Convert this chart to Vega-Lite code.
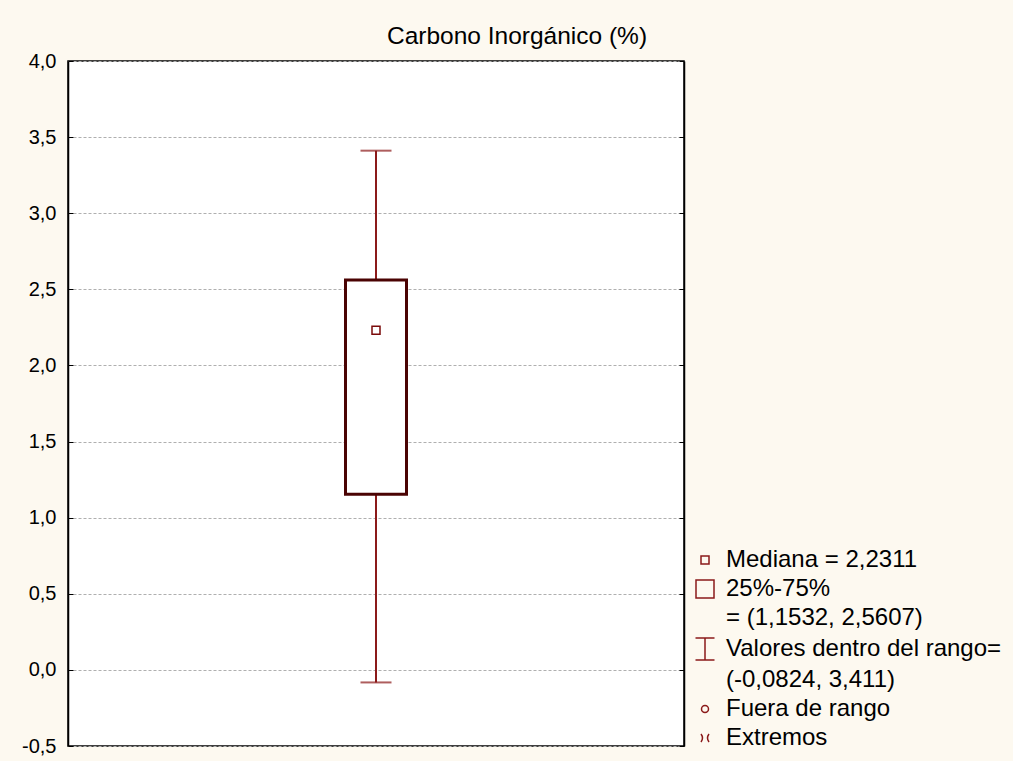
{
  "$schema": "https://vega.github.io/schema/vega-lite/v6.json",
  "width": 616,
  "height": 685,
  "autosize": "none",
  "padding": {"left": 68, "top": 61, "right": 329, "bottom": 15},
  "background": "#FDF9F0",
  "view": {"fill": "#FFFFFF", "stroke": "#000000", "strokeWidth": 1.5},
  "title": {"text": "Carbono Inorgánico (%)", "fontSize": 24.5, "font": "Liberation Sans", "fontWeight": "normal", "color": "#000000", "offset": 2, "dx": 141},
  "config": {
    "font": "Liberation Sans",
    "view": {"fill": "#FFFFFF", "stroke": "#000000", "strokeWidth": 1.5},
    "axisY": {"labelFontSize": 20, "labelFont": "Liberation Sans", "labelColor": "#000000"}
  },
  "datasets": {
    "box": [
      {"variable": "Carbono Inorgánico (%)", "min": -0.0824, "q1": 1.1532, "median": 2.2311, "q3": 2.5607, "max": 3.411}
    ],
    "legend": [
      {"item": "Mediana = 2,2311"},
      {"item": "25%-75%"},
      {"item": "= (1,1532, 2,5607)"},
      {"item": "Valores dentro del rango="},
      {"item": "(-0,0824, 3,411)"},
      {"item": "Fuera de rango"},
      {"item": "Extremos"}
    ]
  },
  "resolve": {"scale": {"y": "shared"}, "axis": {"y": "independent"}},
  "layer": [
    {
      "data": {"name": "box"},
      "mark": {"type": "rule", "color": "#8B1A1A", "strokeWidth": 2},
      "encoding": {
        "x": {"field": "variable", "type": "nominal", "axis": null},
        "y": {"field": "min", "type": "quantitative", "scale": {"domain": [-0.5, 4.0], "nice": false, "zero": false},
          "axis": {"orient": "left", "values": [-0.5, 0, 0.5, 1, 1.5, 2, 2.5, 3, 3.5, 4],
            "labelExpr": "replace(replace(format(datum.value, '.1f'), '.', ','), '\u2212', '-')",
            "labelFontSize": 20, "labelFont": "Liberation Sans", "labelColor": "#000000", "labelPadding": 17,
            "tickSize": -5, "tickColor": "#000000", "tickWidth": 1,
            "domainColor": "#000000", "domainWidth": 1.5,
            "grid": true, "gridColor": "#AFAFAF", "gridDash": [3, 2], "gridWidth": 1,
            "title": null}},
        "y2": {"field": "max"}
      }
    },
    {
      "data": {"name": "box"},
      "mark": {"type": "bar", "size": 61, "fill": "#FFFFFF", "stroke": "#4A0303", "strokeWidth": 3},
      "encoding": {
        "x": {"field": "variable", "type": "nominal", "axis": null},
        "y": {"field": "q1", "type": "quantitative", "axis": null},
        "y2": {"field": "q3"}
      }
    },
    {
      "data": {"name": "box"},
      "mark": {"type": "tick", "size": 31, "thickness": 2, "color": "#8B1A1A"},
      "encoding": {
        "x": {"field": "variable", "type": "nominal", "axis": null},
        "y": {"field": "min", "type": "quantitative", "axis": null}
      }
    },
    {
      "data": {"name": "box"},
      "mark": {"type": "tick", "size": 31, "thickness": 2, "color": "#8B1A1A"},
      "encoding": {
        "x": {"field": "variable", "type": "nominal", "axis": null},
        "y": {"field": "max", "type": "quantitative",
          "axis": {"orient": "right", "values": [-0.5, 0, 0.5, 1, 1.5, 2, 2.5, 3, 3.5, 4], "labels": false,
            "tickSize": -5, "tickColor": "#000000", "domainColor": "#000000", "domainWidth": 1.5, "grid": false, "title": null}}
      }
    },
    {
      "data": {"name": "box"},
      "mark": {"type": "point", "shape": "square", "size": 64, "filled": false, "stroke": "#7A0A0A", "strokeWidth": 1.5, "opacity": 1},
      "encoding": {
        "x": {"field": "variable", "type": "nominal", "axis": null},
        "y": {"field": "median", "type": "quantitative", "axis": null}
      }
    },
    {
      "data": {"name": "legend"},
      "mark": {"type": "point", "filled": false, "opacity": 0},
      "encoding": {
        "shape": {"field": "item", "type": "nominal",
          "scale": {
            "domain": ["Mediana = 2,2311", "25%-75%", "= (1,1532, 2,5607)", "Valores dentro del rango=", "(-0,0824, 3,411)", "Fuera de rango", "Extremos"],
            "range": [
              "M-0.4,-0.4H0.4V0.4H-0.4Z",
              "M-0.9,-0.9H0.9V0.9H-0.9Z",
              "M0,0",
              "M-0.95,-1.1H0.95M0,-1.1V1.1M-0.95,1.1H0.95",
              "M0,0",
              "M-0.35,0A0.35,0.35 0 1,0 0.35,0A0.35,0.35 0 1,0 -0.35,0Z",
              "M-0.4,-0.4Q-0.1,0 -0.4,0.4M0.4,-0.4Q0.1,0 0.4,0.4"
            ]},
          "legend": {"orient": "none", "legendX": 625, "legendY": 487, "title": null, "padding": 0,
            "labelFontSize": 24, "labelFont": "Liberation Sans", "labelColor": "#000000", "labelLimit": 400,
            "labelOffset": 9, "rowPadding": 5, "symbolSize": 400, "symbolStrokeWidth": 1.5, "symbolOpacity": 1,
            "symbolFillColor": "transparent", "symbolStrokeColor": "#8B1A1A"}}
      }
    }
  ]
}
